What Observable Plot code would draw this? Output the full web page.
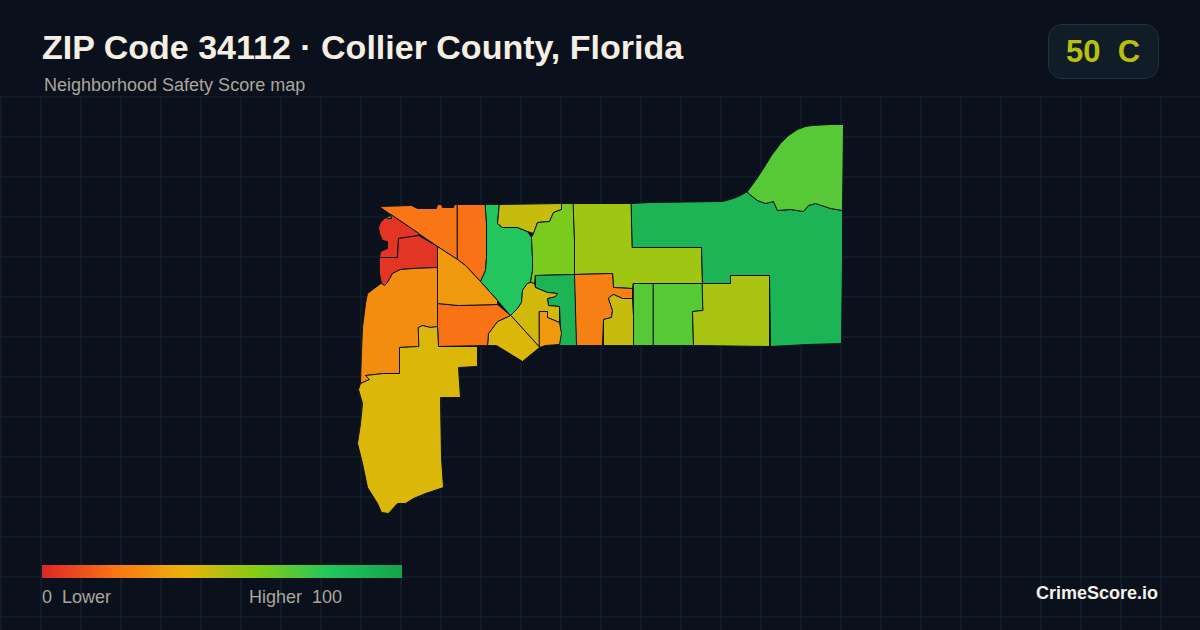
<!DOCTYPE html>
<html><head><meta charset="utf-8">
<script src="https://cdn.jsdelivr.net/npm/d3@7"></script>
<script src="https://cdn.jsdelivr.net/npm/@observablehq/plot@0.6"></script>
<style>
html,body{margin:0;padding:0;background:#0a111c;width:1200px;height:630px;overflow:hidden;font-family:"Liberation Sans",Arial,sans-serif}
#chart{position:absolute;left:0;top:96px}
#chart svg{display:block;background:transparent}
.t{position:absolute;white-space:pre;line-height:1}
#title{left:42px;top:30px;font-size:34px;font-weight:700;color:#f5eee2}
#sub{left:44px;top:76px;font-size:18px;color:#aaa69c}
#badge{position:absolute;left:1048px;top:24px;width:109px;height:53px;border:1px solid #232f3c;border-radius:14px;background:#111c29}
#score{left:1066px;top:36px;font-size:31px;font-weight:700}
#bar{position:absolute;left:42px;top:565px;width:360px;height:13px}
.leg{top:588px;font-size:18px;color:#aaa69c}
#brand{left:1036px;top:584px;font-size:18px;font-weight:700;color:#f4f1ea}
</style></head><body>
<div id="chart"></div>
<div class="t" id="title"></div>
<div class="t" id="sub"></div>
<div id="badge"></div>
<div class="t" id="score"></div>
<div id="bar"></div>
<div class="t leg" id="l0" style="left:42px"></div>
<div class="t leg" id="l1" style="left:249px"></div>
<div class="t" id="brand"></div>
<script>
const titleText = "ZIP Code 34112 · Collier County, Florida";
const subtitleText = "Neighborhood Safety Score map";
const overallScore = 50;
const overallGrade = "C";
const legendLow = "0  Lower";
const legendHigh = "Higher  100";
const brandText = "CrimeScore.io";

const colorStops = [0, 20, 40, 60, 80, 100];
const colorRange = ["#dc2626", "#f97316", "#eab308", "#84cc16", "#22c55e", "#16a34a"];

// Neighborhood scores, estimated from the fill colours
const zoneScores = [21, 20, 80, 47, 62, 55, 90, 69, 24, 47, 69, 69, 53, 90, 45, 32, 43, 20, 32, 4, 4, 80, 28, 43];

// Neighborhood outlines, in map units
const zoneRings = [
 [[29,86],[61,85],[67,88],[86,88],[87,84],[91,84],[92,87],[103,87],[104,84],[107,84],[107,139],[87,126],[68,113],[40,94]],
 [[107,84],[135,84],[136,103],[136,137],[135,150],[130,161],[115,145],[107,139]],
 [[135,84],[149,84],[148,93],[147,103],[152,107],[167,107],[177,111],[181,117],[182,137],[182,150],[180,162],[177,163],[172,170],[171,182],[167,188],[160,195],[147,180],[130,161],[135,150],[136,137],[136,103]],
 [[149,84],[211,83],[211,89],[203,92],[199,101],[187,102],[183,113],[177,111],[167,107],[152,107],[147,103],[148,93]],
 [[183,113],[187,102],[199,101],[203,92],[211,89],[211,83],[223,83],[224,120],[224,154],[185,155],[184,163],[180,162],[182,150],[182,137],[181,117]],
 [[223,83],[281,83],[282,127],[351,127],[352,163],[283,163],[282,168],[263,167],[262,153],[224,154],[224,120]],
 [[281,83],[300,82],[372,81],[383,78],[390,75],[397,71],[398,73],[407,80],[415,83],[423,81],[427,90],[440,89],[453,91],[458,85],[465,83],[480,88],[492,90],[492,137],[491,223],[457,224],[420,226],[419,155],[380,155],[380,163],[352,163],[351,127],[282,127]],
 [[397,71],[405,60],[413,48],[421,35],[430,23],[438,15],[447,9],[455,6],[462,5],[480,4],[493,4],[492,90],[480,88],[465,83],[458,85],[453,91],[440,89],[427,90],[423,81],[415,83],[407,80],[398,73]],
 [[224,154],[262,153],[263,167],[282,168],[282,178],[272,178],[263,174],[258,178],[262,190],[261,197],[253,199],[252,225],[226,225]],
 [[263,174],[272,178],[282,178],[283,195],[283,225],[253,225],[253,199],[261,197],[262,190],[258,178]],
 [[283,163],[303,163],[303,225],[283,225],[283,195]],
 [[303,163],[352,163],[352,190],[342,191],[343,225],[303,225]],
 [[352,163],[380,163],[380,155],[419,155],[419,226],[343,225],[342,191],[352,190]],
 [[185,155],[224,154],[226,225],[209,225],[210,210],[209,186],[198,185],[197,178],[205,176],[207,173],[197,172],[185,167],[185,161]],
 [[177,163],[180,162],[184,163],[185,167],[197,172],[207,173],[205,176],[197,178],[198,185],[209,186],[209,202],[197,197],[197,191],[189,191],[189,227],[160,195],[167,188],[171,182],[172,170]],
 [[189,191],[197,191],[197,197],[209,202],[211,213],[209,224],[195,225],[189,227]],
 [[160,195],[147,201],[138,213],[137,225],[146,225],[172,241],[189,227]],
 [[87,183],[108,185],[147,184],[160,195],[147,201],[138,213],[137,225],[88,226],[87,206]],
 [[87,126],[107,139],[115,145],[130,161],[147,180],[147,184],[108,185],[87,183]],
 [[40,94],[41,98],[35,97],[30,102],[28,107],[29,113],[32,120],[37,121],[37,128],[30,131],[29,137],[47,137],[48,118],[68,115],[68,113]],
 [[29,137],[47,137],[48,118],[68,115],[87,126],[87,147],[63,148],[50,149],[42,153],[37,162],[34,165],[31,163],[29,153]],
 [[35,97],[40,95],[41,98]],
 [[31,163],[34,165],[37,162],[42,153],[50,149],[63,148],[87,147],[87,183],[87,206],[80,207],[72,205],[68,207],[68,226],[49,227],[49,253],[33,253],[15,255],[19,259],[10,263],[11,230],[12,207],[15,183],[17,173],[25,167]],
 [[68,207],[72,205],[80,207],[87,206],[88,226],[127,226],[127,246],[108,247],[110,277],[90,277],[91,337],[93,367],[75,373],[63,378],[55,383],[47,383],[38,393],[31,392],[27,383],[17,367],[12,343],[7,323],[10,303],[12,283],[8,269],[10,263],[19,259],[15,255],[33,253],[49,253],[49,227],[68,226]]
];

const zones = zoneRings.map((ring, i) => ({
  type: "Feature",
  properties: {score: zoneScores[i]},
  geometry: {type: "Polygon", coordinates: [[...ring, ring[0]]]}
}));

// Map extent shown by the frame, and the background graticule spacing
const extentWest = -350, extentEast = 850, extentNorth = -24, extentSouth = 510;
const gridStep = 40;
const gridLines = {
  type: "MultiLineString",
  coordinates: [
    ...d3.range(extentWest + 0.5, extentEast, gridStep).map(x => [[x, extentNorth], [x, extentSouth]]),
    ...d3.range(extentNorth + 0.5, extentSouth, gridStep).map(y => [[extentWest, y], [extentEast, y]])
  ]
};

const chart = Plot.plot({
  width: 1200, height: 534,
  margin: 0,
  projection: {type: "identity", clip: false,
    domain: {type: "MultiPoint", coordinates: [[extentWest, extentNorth], [extentEast, extentSouth]]}},
  color: {type: "linear", domain: colorStops, range: colorRange, interpolate: "rgb"},
  style: {background: "transparent"},
  marks: [
    Plot.geo(gridLines, {stroke: "#172733", strokeWidth: 1}),
    Plot.geo(zones, {fill: d => d.properties.score, stroke: "#0c131d", strokeWidth: 1})
  ]
});
document.getElementById("chart").append(chart);

const colorOf = d3.scaleLinear().domain(colorStops).range(colorRange).interpolate(d3.interpolateRgb);
document.getElementById("title").textContent = titleText;
document.getElementById("sub").textContent = subtitleText;
const scoreEl = document.getElementById("score");
scoreEl.textContent = overallScore + "  " + overallGrade;
scoreEl.style.color = colorOf(overallScore);
document.getElementById("bar").style.background =
  "linear-gradient(to right," + colorRange.map((c, i) => c + " " + colorStops[i] + "%").join(",") + ")";
document.getElementById("l0").textContent = legendLow;
document.getElementById("l1").textContent = legendHigh;
document.getElementById("brand").textContent = brandText;
</script>
</body></html>
